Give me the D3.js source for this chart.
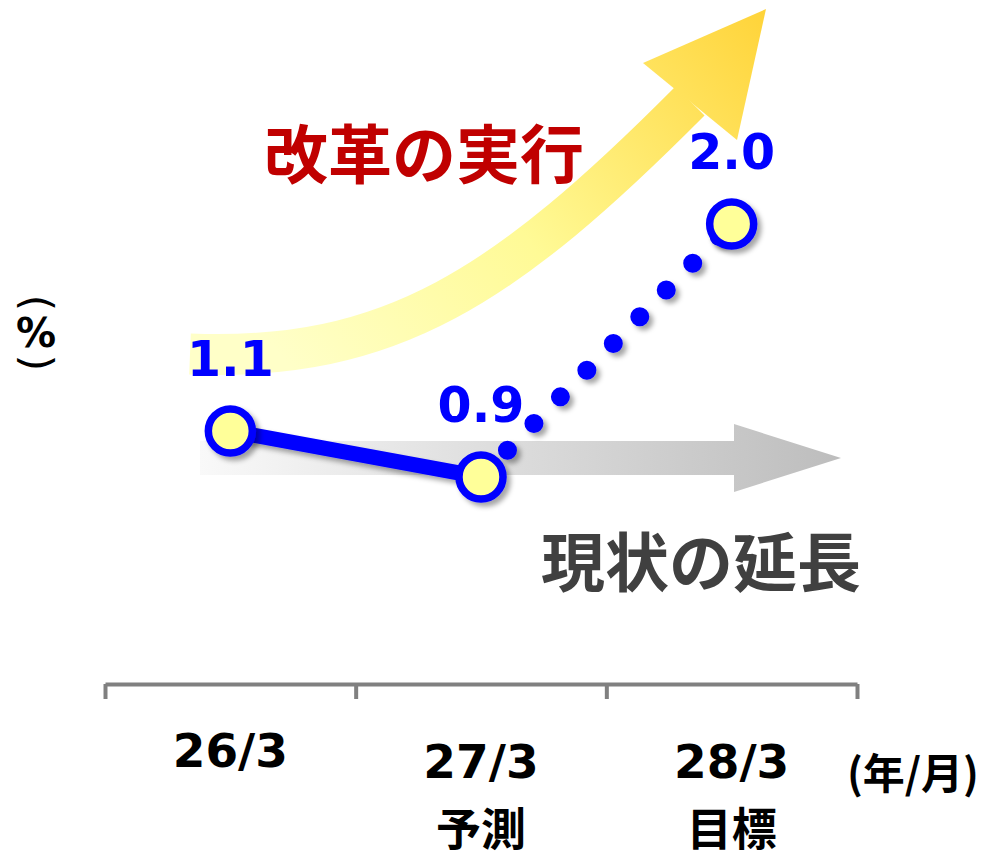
<!DOCTYPE html>
<html>
<head>
<meta charset="utf-8">
<script src="https://cdn.jsdelivr.net/npm/d3@7/dist/d3.min.js"></script>
<style>
  html, body { margin: 0; padding: 0; background: #fff; }
  svg { display: block; }
</style>
</head>
<body>
<svg id="chart" width="987" height="860"></svg>
<script>
// ---- data ----
const categories = ["26/3", "27/3", "28/3"];
const subLabels = ["", "予測", "目標"];
const values = [1.1, 0.9, 2.0];
const valueLabels = ["1.1", "0.9", "2.0"];
const yUnit = "%";
const xUnit = "(年/月)";
const arrowLabels = ["改革の実行", "現状の延長"];

// ---- setup ----
const svg = d3.select("#chart");
const x = d3.scaleBand().domain(categories).range([105, 857]).padding(0);
const xb = d3.scaleLinear().domain([0, categories.length]).range([105, 857]);
const y = d3.scaleLinear().domain([0, 2.9]).range([684, 684 - 2.9 * 230]);
const cx = c => x(c) + x.bandwidth() / 2;

const defs = svg.append("defs");
const shadow = defs.append("filter").attr("id", "shadow")
  .attr("x", "-50%").attr("y", "-50%").attr("width", "200%").attr("height", "200%");
shadow.append("feDropShadow").attr("dx", 4).attr("dy", 4).attr("stdDeviation", 2.5)
  .attr("flood-color", "#000").attr("flood-opacity", 0.35);

const yg = defs.append("linearGradient").attr("id", "ygrad")
  .attr("gradientUnits", "userSpaceOnUse").attr("x1", 300).attr("y1", 380).attr("x2", 760).attr("y2", 10);
yg.append("stop").attr("offset", "0").attr("stop-color", "#FFFFC8");
yg.append("stop").attr("offset", "0.45").attr("stop-color", "#FFFA96");
yg.append("stop").attr("offset", "1").attr("stop-color", "#FFD43A");

const gg = defs.append("linearGradient").attr("id", "ggrad")
  .attr("gradientUnits", "userSpaceOnUse").attr("x1", 200).attr("y1", 0).attr("x2", 840).attr("y2", 0);
gg.append("stop").attr("offset", "0").attr("stop-color", "#F9F9F9");
gg.append("stop").attr("offset", "1").attr("stop-color", "#BDBDBD");

// ---- decorative arrows ----
const yPath = d3.path();
yPath.moveTo(190, 354);
yPath.bezierCurveTo(390, 362, 505, 287, 690, 101);
svg.append("path").attr("d", yPath.toString())
  .attr("fill", "none").attr("stroke", "url(#ygrad)").attr("stroke-width", 41);
svg.append("path")
  .attr("d", "M643,63 L766,9 L737,140 Z")
  .attr("fill", "url(#ygrad)");

svg.append("path")
  .attr("d", "M200,441 L734,441 L734,424 L841,458 L734,492 L734,475 L200,475 Z")
  .attr("fill", "url(#ggrad)");

svg.append("text").attr("x", 424).attr("y", 150)
  .attr("text-anchor", "middle").attr("dominant-baseline", "central")
  .attr("font-family", "'Noto Sans CJK JP', sans-serif").attr("font-weight", 700)
  .attr("font-size", 64).attr("fill", "#C00000").text(arrowLabels[0]);
svg.append("text").attr("x", 701).attr("y", 558)
  .attr("text-anchor", "middle").attr("dominant-baseline", "central")
  .attr("font-family", "'Noto Sans CJK JP', sans-serif").attr("font-weight", 700)
  .attr("font-size", 64).attr("fill", "#404040").text(arrowLabels[1]);

// ---- axis ----
const axis = svg.append("g").attr("transform", `translate(0,${y(0)})`)
  .call(d3.axisBottom(xb).tickValues(d3.range(categories.length + 1))
    .tickSize(15).tickSizeOuter(0).tickFormat(""));
axis.select(".domain").attr("stroke", "#808080").attr("stroke-width", 4);
axis.selectAll(".tick line").attr("stroke", "#808080").attr("stroke-width", 4);

const labG = svg.append("g").attr("fill", "#000").attr("text-anchor", "middle")
  .attr("font-weight", 700);
categories.forEach((c, i) => {
  labG.append("text").attr("x", cx(c)).attr("y", subLabels[i] ? 778 : 767)
    .attr("font-family", "'DejaVu Sans', Verdana, sans-serif")
    .attr("font-size", 47).text(c);
  if (subLabels[i]) {
    labG.append("text").attr("x", cx(c)).attr("y", 846)
      .attr("font-family", "'Noto Sans CJK JP', sans-serif")
      .attr("font-size", 45).text(subLabels[i]);
  }
});
labG.append("text").attr("x", 913).attr("y", 789)
  .attr("font-family", "'Noto Sans CJK JP', sans-serif")
  .attr("font-size", 42).text(xUnit);

// y unit (vertical)
const ug = svg.append("g").attr("font-family", "'DejaVu Sans', sans-serif")
  .attr("text-anchor", "middle").attr("fill", "#000");
ug.append("text").attr("transform", "translate(36,303) rotate(90)")
  .attr("dominant-baseline", "central").attr("font-size", 42).attr("font-weight", 400).text("(");
ug.append("text").attr("x", 36).attr("y", 347).attr("font-size", 40).attr("font-weight", 700).text(yUnit);
ug.append("text").attr("transform", "translate(36,363) rotate(90)")
  .attr("dominant-baseline", "central").attr("font-size", 42).attr("font-weight", 400).text(")");

// ---- series ----
const pts = categories.map((c, i) => [cx(c), y(values[i])]);
const line = d3.line();
const sg = svg.append("g");
sg.append("path").attr("d", line(pts.slice(0, 2)))
  .attr("fill", "none").attr("stroke", "#0000FF").attr("stroke-width", 15)
  .attr("filter", "url(#shadow)");
sg.append("path").attr("d", line(pts.slice(1, 3)))
  .attr("fill", "none").attr("stroke", "#0000FF").attr("stroke-width", 19)
  .attr("stroke-linecap", "round").attr("stroke-dasharray", "0 37.6")
  .attr("filter", "url(#shadow)");
sg.selectAll("circle.m").data(pts).join("circle").attr("class", "m")
  .attr("cx", d => d[0]).attr("cy", d => d[1]).attr("r", 22)
  .attr("fill", "#FFFF99").attr("stroke", "#0000FF").attr("stroke-width", 7.5)
  .attr("filter", "url(#shadow)");

svg.append("g").selectAll("text").data(pts).join("text")
  .attr("x", d => d[0]).attr("y", d => d[1] - 55)
  .attr("text-anchor", "middle")
  .attr("font-family", "'DejaVu Sans', Verdana, sans-serif").attr("font-weight", 700)
  .attr("font-size", 49).attr("fill", "#0000FF")
  .text((d, i) => valueLabels[i]);
</script>
</body>
</html>
